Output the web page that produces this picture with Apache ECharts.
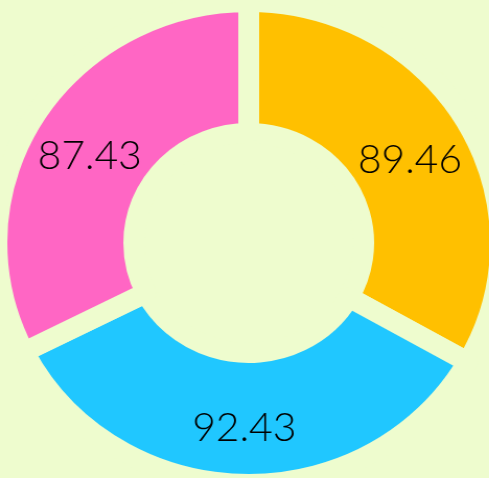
<!DOCTYPE html>
<html>
<head>
<meta charset="utf-8">
<script src="https://cdn.jsdelivr.net/npm/echarts@6/dist/echarts.min.js"></script>
<style>
  html, body { margin: 0; padding: 0; background: #EEFCCE; overflow: hidden; }
  #wrap { width: 489px; height: 478px; overflow: hidden; }
  #chart { width: 468px; height: 478px; transform: scaleX(1.045); transform-origin: 0 0; }
</style>
</head>
<body>
<div id="wrap"><div id="chart"></div></div>
<script>
const categories = ['A', 'B', 'C'];
const values = [89.46, 92.43, 87.43];
const colors = ['#FFC000', '#20C7FF', '#FF66C4'];

const chart = echarts.init(document.getElementById('chart'), null, { renderer: 'canvas' });
chart.setOption({
  backgroundColor: '#EEFCCE',
  animation: false,
  series: [{
    type: 'pie',
    center: [238, 243],
    radius: [110, 241],
    startAngle: 90,
    clockwise: true,
    avoidLabelOverlap: false,
    itemStyle: { borderColor: '#EEFCCE', borderWidth: 20 },
    label: {
      show: true,
      position: 'inside',
      formatter: p => p.value.toFixed(2),
      color: '#000',
      fontFamily: 'Lato',
      fontWeight: 300,
      fontSize: 39,
      offset: [0, 7]
    },
    labelLine: { show: false },
    emphasis: { disabled: true },
    data: categories.map((c, i) => ({ name: c, value: values[i], itemStyle: { color: colors[i] } }))
  }]
});
</script>
</body>
</html>
